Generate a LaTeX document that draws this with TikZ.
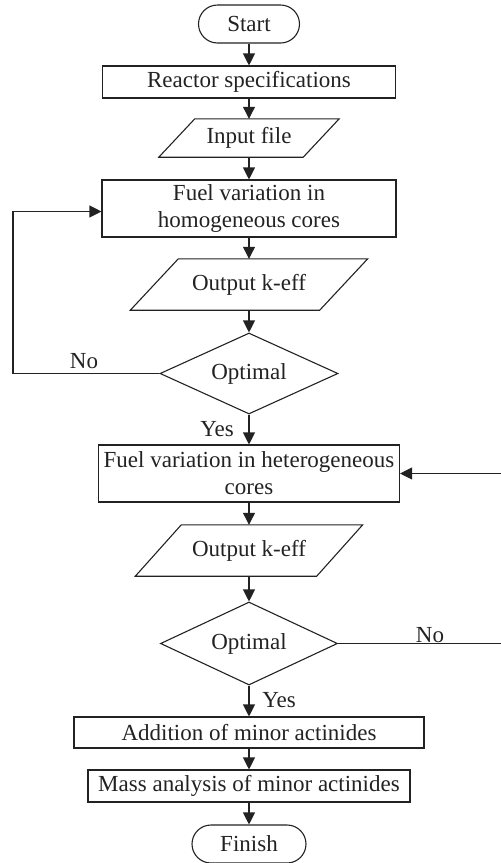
\documentclass[tikz,border=0pt]{standalone}
\usepackage{fontspec}
\setmainfont{Liberation Serif}
\usetikzlibrary{shapes.geometric,arrows.meta}
\definecolor{ln}{HTML}{222222}
\begin{document}
\begin{tikzpicture}[x=1pt,y=-1pt,
  every node/.style={font=\fontsize{23}{27}\selectfont, text=ln},
  box/.style={draw=ln, line width=1.1pt, rectangle, inner sep=0pt, align=center},
  term/.style={draw=ln, line width=1.1pt, rectangle, rounded corners=19pt, minimum height=38pt, inner sep=0pt},
  iobox/.style={rectangle, inner sep=0pt},
  dec/.style={draw=ln, line width=1.1pt, diamond, aspect=2.2, inner sep=0pt},
  arr/.style={draw=ln, line width=1.1pt, -{Triangle[length=12pt,width=12pt]}},
  conn/.style={draw=ln, line width=1.1pt},
  lbl/.style={inner sep=0pt}
]
\useasboundingbox (0,0) rectangle (501,863);

\node[term, minimum width=101pt] (start) at (249,24) {Start};
\node[box, minimum width=293pt, minimum height=32pt] (spec) at (249,82) {Reactor specifications};
\node[iobox, minimum width=180pt, minimum height=38pt] (inp) at (249,138) {Input file};
\draw[conn] ([xshift=36pt]inp.north west) -- (inp.north east) -- ([xshift=-36pt]inp.south east) -- (inp.south west) -- cycle;
\node[box, minimum width=294pt, minimum height=57pt] (hom) at (249,208.5) {Fuel variation in\\homogeneous cores};
\node[iobox, minimum width=237pt, minimum height=51pt] (out1) at (249,284.5) {Output k-eff};
\draw[conn] ([xshift=48pt]out1.north west) -- (out1.north east) -- ([xshift=-48pt]out1.south east) -- (out1.south west) -- cycle;
\node[dec, minimum width=178pt, minimum height=81pt] (d1) at (249,373.5) {Optimal};
\node[box, minimum width=301pt, minimum height=57pt] (het) at (249,473.5) {Fuel variation in heterogeneous\\cores};
\node[iobox, minimum width=227pt, minimum height=51pt] (out2) at (249,550.5) {Output k-eff};
\draw[conn] ([xshift=46pt]out2.north west) -- (out2.north east) -- ([xshift=-46pt]out2.south east) -- (out2.south west) -- cycle;
\node[dec, minimum width=177pt, minimum height=83pt] (d2) at (249,643.5) {Optimal};
\node[box, minimum width=350pt, minimum height=31pt] (add) at (249,732.5) {Addition of minor actinides};
\node[box, minimum width=322pt, minimum height=32pt] (mass) at (249,786) {Mass analysis of minor actinides};
\node[term, minimum width=114pt] (fin) at (249,844) {Finish};

\coordinate (lx) at (13,0);
\coordinate (rx) at (503,0);

\draw[arr] (start) -- (spec);
\draw[arr] (spec) -- (inp);
\draw[arr] (inp) -- (hom);
\draw[arr] (hom) -- (out1);
\draw[arr] (out1) -- (d1);
\draw[arr] (d1) -- (het);
\draw[arr] (het) -- (out2);
\draw[arr] (out2) -- (d2);
\draw[arr] (d2) -- (add);
\draw[arr] (add) -- (mass);
\draw[arr] (mass) -- (fin);

\draw[arr] (d1.west) -- (d1.west -| lx) |- ([yshift=-3pt]hom.west);
\draw[arr] (d2.east) -- (d2.east -| rx) -- (het.east -| rx) -- (het.east);

\node[lbl] (no1) at (84,361) {No};
\node[lbl] (yes1) at (217,429) {Yes};
\node[lbl] (no2) at (430,635) {No};
\node[lbl] (yes2) at (279,700) {Yes};
\end{tikzpicture}
\end{document}
